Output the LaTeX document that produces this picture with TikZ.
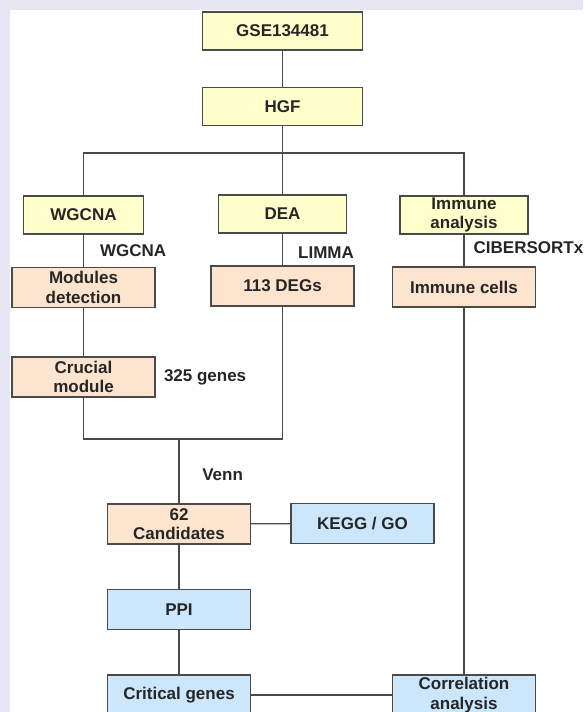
\documentclass[tikz,border=0pt]{standalone}
\usepackage{fontspec}
\setmainfont{Liberation Sans}
\usepackage{tikz}
\usetikzlibrary{positioning,calc}
\definecolor{boxyellow}{HTML}{FFFFCC}
\definecolor{boxpeach}{HTML}{FCE4CF}
\definecolor{boxblue}{HTML}{CCE6FC}
\definecolor{edgegray}{HTML}{4A4A4A}
\definecolor{textgray}{HTML}{262626}
\definecolor{bglav}{HTML}{E7E7F3}

\begin{document}
\begin{tikzpicture}[
    x=0.75pt,y=-0.75pt,
    block/.style={draw=edgegray,line width=1.1pt,minimum height=30pt,minimum width=107.25pt,inner sep=0pt,align=center,text=textgray,font=\fontsize{12.75}{14.5}\selectfont\bfseries},
    yblock/.style={block,fill=boxyellow,minimum height=28.5pt},
    pblock/.style={block,fill=boxpeach},
    bblock/.style={block,fill=boxblue},
    lab/.style={inner sep=0pt,text=textgray,font=\fontsize{12.75}{14.5}\selectfont\bfseries},
    link/.style={draw=edgegray,line width=1pt}
]
% background
\fill[bglav] (0,0) rectangle (583,712);
\fill[white] (10,10) rectangle (583,712);
\useasboundingbox (0,0) rectangle (583,712);

% top
\node[yblock,minimum width=120pt] (gse) at (282.5,31) {GSE134481};
\node[yblock,minimum width=120pt] (hgf) at (282.5,106.5) {HGF};

% three branches
\node[yblock,minimum width=90pt] (wgcna) at (83.5,215) {WGCNA};
\node[yblock,minimum width=96pt] (dea) at (282.5,214) {DEA};
\node[yblock,minimum width=96pt] (immune) at (464,215) {Immune\\analysis};

\node[pblock] (modules) at (83.5,287.5) {Modules\\detection};
\node[pblock] (degs) at (282.5,286) {113 DEGs};
\node[pblock] (cells) at (464,287) {Immune cells};

\node[pblock] (crucial) at (83.5,377) {Crucial\\module};
\node[lab,right=6pt of crucial] (genes) {325 genes};

% merge
\node[pblock] (cand) at (179,524) {62\\Candidates};
\node[bblock] (kegg) at (362.5,523.5) {KEGG / GO};
\node[bblock] (ppi) at (179,609.5) {PPI};
\node[bblock] (critical) at (179,695) {Critical genes};
\node[bblock] (corr) at (464,695) {Correlation\\analysis};

\coordinate (split) at (282.5,153);
\coordinate (merge) at (179,439);

\draw[link] (gse) -- (hgf);
\draw[link] (hgf) -- (split);
\draw[link] (wgcna.north) |- (split) -| (immune.north);
\draw[link] (split) -- (dea);
\draw[link] (wgcna) -- node[lab,right=12pt] {WGCNA} (modules);
\draw[link] (dea) -- node[lab,right=11.25pt,yshift=-2.6pt] {LIMMA} (degs);
\draw[link] (immune) -- node[lab,right=6.75pt,yshift=1.8pt] {CIBERSORTx} (cells);
\draw[link] (modules) -- (crucial);
\draw[link] (crucial.south) |- (merge) -| (degs.south);
\draw[link] (merge) -- node[lab,right=17pt,yshift=-2.6pt] {Venn} (cand);
\draw[link] (cand) -- (kegg);
\draw[link] (cand) -- (ppi);
\draw[link] (ppi) -- (critical);
\draw[link] (cells) -- (corr);
\draw[link] (critical) -- (corr);
\end{tikzpicture}
\end{document}
